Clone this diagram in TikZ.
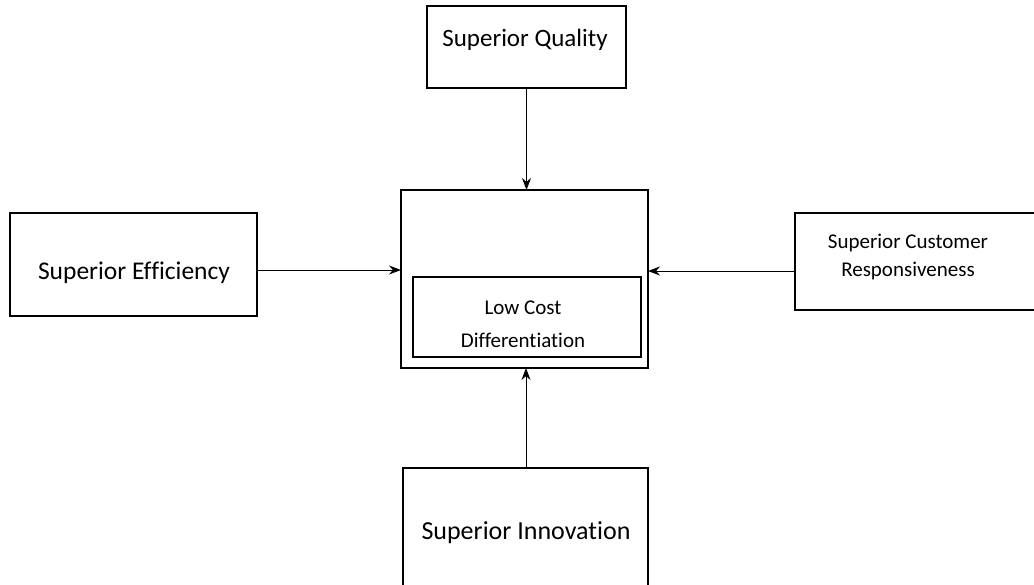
\documentclass[tikz,border=0pt]{standalone}
\usepackage{fontspec}
\setmainfont{Carlito}[Ligatures=NoCommon]
\usetikzlibrary{arrows.meta}
\begin{document}
\begin{tikzpicture}[x=1pt,y=-1pt,
  frame/.style={line width=1.3pt},
  lbl/.style={inner sep=0pt,align=center},
  conn/.style={draw=black,line width=1pt,-{Stealth[length=12pt,width=9pt]}}]
\useasboundingbox (0,0) rectangle (1034,584);
% source boxes
\draw[frame] (427,6) rectangle (626,88);
\node[lbl,font=\fontsize{25}{30}\selectfont] (qt) at (525,40) {Superior Quality};
\coordinate (qb) at (526.5,88);

\draw[frame] (10,213) rectangle (257,316);
\node[lbl,font=\fontsize{25.5}{30}\selectfont] (et) at (134,273) {Superior Efficiency};
\coordinate (er) at (257,270);

\draw[frame] (795,213) rectangle (1040,310);
\node[lbl,font=\fontsize{21}{28}\selectfont] (rt) at (908,257) {Superior Customer\\Responsiveness};
\coordinate (rl) at (795,271);

\draw[frame] (403,468) rectangle (648,590);
\node[lbl,font=\fontsize{26}{30}\selectfont] (it) at (526,533) {Superior Innovation};
\coordinate (it0) at (526,468);

% central strategy box
\draw[frame] (401,190) rectangle (648,368);
\draw[frame] (413,277) rectangle (641,357);
\node[lbl,font=\fontsize{21}{33}\selectfont] (lc) at (523,324) {Low Cost\\Differentiation};
\coordinate (ct) at (526.5,190);
\coordinate (cl) at (401,270);
\coordinate (cr) at (648,271);
\coordinate (cb) at (526,368);

\draw[conn] (qb) -- (ct);
\draw[conn] (er) -- (cl);
\draw[conn] (rl) -- (cr);
\draw[conn] (it0) -- (cb);
\end{tikzpicture}
\end{document}
